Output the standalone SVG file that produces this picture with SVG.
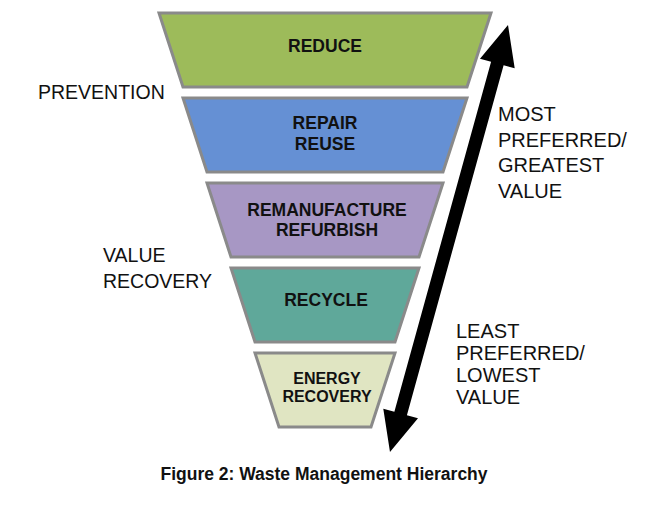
<svg xmlns="http://www.w3.org/2000/svg" width="650" height="512" viewBox="0 0 650 512">
<style>
  .band { stroke: #8a8a8a; stroke-width: 3; stroke-linejoin: miter; }
  .lbl { font-family: "Liberation Sans", Arial, sans-serif; font-weight: bold; font-size: 17.5px; fill: #111; text-anchor: middle; }
  .side { font-family: "Liberation Sans", Arial, sans-serif; font-size: 20px; fill: #111; }
  .cap { font-family: "Liberation Sans", Arial, sans-serif; font-weight: bold; font-size: 17.5px; fill: #111; text-anchor: middle; }
</style>
<rect width="650" height="512" fill="#ffffff"/>
<g id="reduce">
  <polygon class="band" fill="#9dbb5a" points="159,13 491,13 467,87 183,87"/>
  <text class="lbl" x="325" y="52">REDUCE</text>
</g>
<g id="repair-reuse">
  <polygon class="band" fill="#6590d4" points="183,98 467,98 443,172 207,172"/>
  <text class="lbl" x="325" y="129">REPAIR</text>
  <text class="lbl" x="325" y="150">REUSE</text>
</g>
<g id="remanufacture-refurbish">
  <polygon class="band" fill="#a797c4" points="207,183 443,183 419,257 231,257"/>
  <text class="lbl" x="327" y="216">REMANUFACTURE</text>
  <text class="lbl" x="327" y="236">REFURBISH</text>
</g>
<g id="recycle">
  <polygon class="band" fill="#5fa89a" points="231,268 419,268 395,342 255,342"/>
  <text class="lbl" x="326" y="306">RECYCLE</text>
</g>
<g id="energy-recovery">
  <polygon class="band" fill="#e0e5c2" points="255,353 395,353 371,427 279,427"/>
  <text class="lbl" x="327" y="384" style="font-size:16px">ENERGY</text>
  <text class="lbl" x="327" y="402" style="font-size:16px">RECOVERY</text>
</g>
<g id="prevention">
  <text class="side" x="38" y="99" style="font-size:19.5px">PREVENTION</text>
</g>
<g id="value-recovery">
  <text class="side" x="103" y="262" style="font-size:19.5px">VALUE</text>
  <text class="side" x="103" y="288" style="font-size:19.5px">RECOVERY</text>
</g>
<g id="most-preferred">
  <text class="side" x="498" y="121">MOST</text>
  <text class="side" x="498" y="147">PREFERRED/</text>
  <text class="side" x="498" y="172">GREATEST</text>
  <text class="side" x="498" y="198">VALUE</text>
</g>
<g id="least-preferred">
  <text class="side" x="456" y="338">LEAST</text>
  <text class="side" x="456" y="360">PREFERRED/</text>
  <text class="side" x="456" y="382">LOWEST</text>
  <text class="side" x="456" y="404">VALUE</text>
</g>
<g id="connectors">
  <polygon fill="#000000" transform="translate(508,25) rotate(105.45)" points="0,0 40,-18 40,-6.5 403,-6.5 403,-18 443,0 403,18 403,6.5 40,6.5 40,18"/>
</g>
<g id="caption">
  <text class="cap" x="324" y="480">Figure 2: Waste Management Hierarchy</text>
</g>
</svg>
